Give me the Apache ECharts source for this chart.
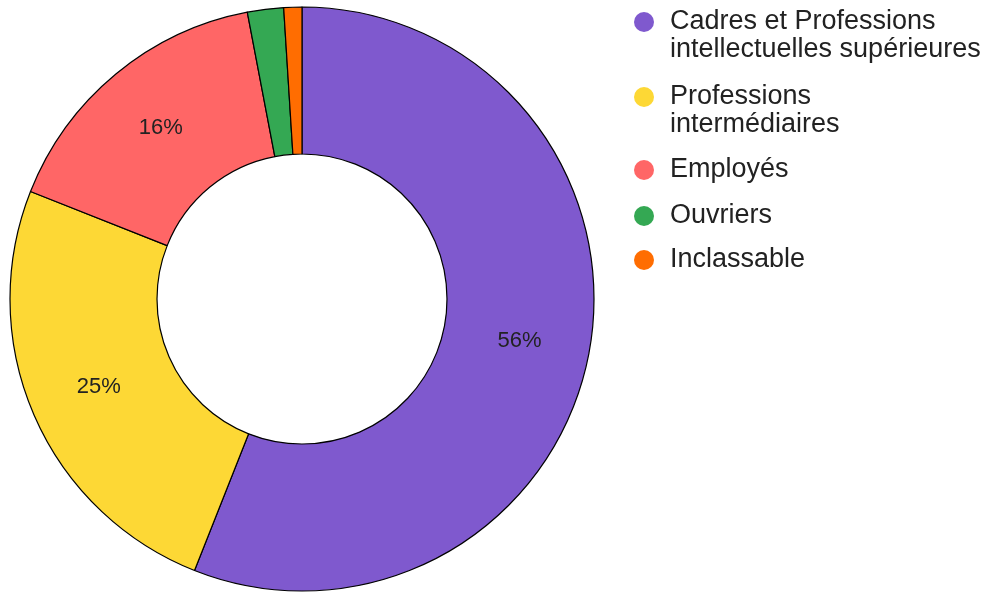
<!DOCTYPE html>
<html>
<head>
<meta charset="utf-8">
<script src="https://cdn.jsdelivr.net/npm/echarts@6/dist/echarts.min.js"></script>
<style>
html,body{margin:0;padding:0;background:#fff;}
#main{width:996px;height:592px;}
</style>
</head>
<body>
<div id="main"></div>
<script>
const categories = [
  'Cadres et Professions\nintellectuelles supérieures',
  'Professions\nintermédiaires',
  'Employés',
  'Ouvriers',
  'Inclassable'
];
const values = [56, 25, 16, 2, 1];
const colors = ['#7F59CE', '#FDD835', '#FF6666', '#34A853', '#FF6D01'];
const legendIconCenters = [21, 96, 169, 215, 259];

const FONT = '"Liberation Sans", Arial, sans-serif';

const chart = echarts.init(document.getElementById('main'), null, {renderer: 'canvas'});

const legends = categories.map((name, i) => {
  const twoLines = name.indexOf('\n') >= 0;
  return {
    left: 634,
    top: legendIconCenters[i] - (twoLines ? 41 : 13),
    padding: 0,
    orient: 'vertical',
    icon: 'circle',
    itemWidth: 20,
    itemHeight: 20,
    selectedMode: false,
    formatter: n => twoLines ? '\n' + n : n,
    data: [{name: name, itemStyle: {color: colors[i], borderWidth: 0}}],
    textStyle: {
      fontSize: 27,
      fontFamily: FONT,
      color: '#222',
      lineHeight: 28,
      padding: [0, 0, 0, 11]
    }
  };
});

chart.setOption({
  animation: false,
  backgroundColor: '#fff',
  legend: legends,
  series: [{
    type: 'pie',
    center: [302, 299],
    radius: [145, 292],
    startAngle: 90,
    clockwise: true,
    avoidLabelOverlap: false,
    label: {
      show: true,
      position: 'inside',
      fontSize: 22,
      fontFamily: FONT,
      color: '#222',
      formatter: p => p.percent >= 5 ? Math.round(p.percent) + '%' : ''
    },
    labelLine: {show: false},
    itemStyle: {borderColor: '#000', borderWidth: 1.2},
    emphasis: {disabled: true},
    data: categories.map((name, i) => ({name: name, value: values[i], itemStyle: {color: colors[i]}}))
  }]
});
</script>
</body>
</html>
